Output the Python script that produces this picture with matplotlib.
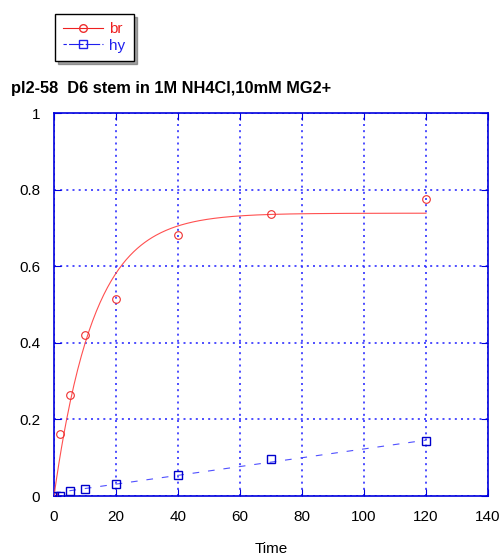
import matplotlib
matplotlib.use('Agg')
import matplotlib.pyplot as plt
import numpy as np

plt.rcParams['font.family'] = ['Liberation Sans', 'DejaVu Sans']

# measured points
time = [0, 2, 5, 10, 20, 40, 70, 120]
br = [0.0, 0.162, 0.264, 0.422, 0.515, 0.682, 0.737, 0.776]
hy = [0.0, 0.001, 0.014, 0.0175, 0.032, 0.054, 0.097, 0.143]

# fit parameters
br_fit = {'amp': 0.739, 'rate': 0.0775}
hy_fit = {'slope': 0.00115, 'offset': 0.008}

xticks = [0, 20, 40, 60, 80, 100, 120, 140]
yticks = [0, 0.2, 0.4, 0.6, 0.8, 1]
ytick_labels = ['0', '0.2', '0.4', '0.6', '0.8', '1']

fig = plt.figure(figsize=(5.01, 5.6), dpi=100)
ax = fig.add_axes([54/501, 64/560, 434/501, 382.7/560])

tt = np.linspace(0, 120, 300)
br_curve = br_fit['amp'] * (1 - np.exp(-br_fit['rate'] * tt))
hy_curve = hy_fit['offset'] + hy_fit['slope'] * tt

ax.plot(tt, br_curve, color='#ff5050', linewidth=0.8, zorder=3)
ax.plot(tt, hy_curve, color='#5050ff', linewidth=0.8, dashes=(6, 8), zorder=3)
ax.plot(time, br, linestyle='none', marker='o', markersize=5.5,
        markerfacecolor='none', markeredgecolor='#ee3030', markeredgewidth=0.8, zorder=4)
ax.plot(time, hy, linestyle='none', marker='s', markersize=5.5,
        markerfacecolor='none', markeredgecolor='#0000cc', markeredgewidth=1.0, zorder=4)

ax.set_xlim(0, 140)
ax.set_ylim(0, 1)
ax.set_xticks(xticks)
ax.set_yticks(yticks)
ax.set_yticklabels(ytick_labels)
ax.grid(True, color='#3030ff', linestyle=(0, (1.2, 2.5)), linewidth=1.2)
for s in ax.spines.values():
    s.set_color('#0000dd')
    s.set_linewidth(1.2)
ax.tick_params(direction='in', length=5, color='#0000dd', labelsize=11,
               top=True, right=True, pad=10)
ax.set_xlabel('Time', fontsize=11, labelpad=13)

fig.text(11/501, 1 - 88/560, 'pl2-58  D6 stem in 1M NH4Cl,10mM MG2+',
         fontsize=11.8, fontweight='bold', va='center', ha='left')

h1, = ax.plot([], [], color='#ee2020', linewidth=0.8, marker='o', markersize=5.5,
              markerfacecolor='none', markeredgecolor='#ee3030')
h2, = ax.plot([], [], color='#2020ee', linewidth=0.8, marker='s', markersize=5.5,
              markerfacecolor='none', markeredgecolor='#2020ee', dashes=(3, 2, 10, 0))
leg = fig.legend([h1, h2], ['br', 'hy'], loc='upper left',
                 bbox_to_anchor=(55/501, 1 - 14/560), fancybox=False, shadow=True,
                 edgecolor='black', fontsize=11, handlelength=2.6, handletextpad=0.4,
                 borderpad=0.55, labelspacing=0.15, borderaxespad=0, framealpha=1)
leg.get_frame().set_linewidth(1.0)
leg.get_texts()[0].set_color('#ee2020')
leg.get_texts()[1].set_color('#2020ee')

fig.savefig('out.png', dpi=100)
